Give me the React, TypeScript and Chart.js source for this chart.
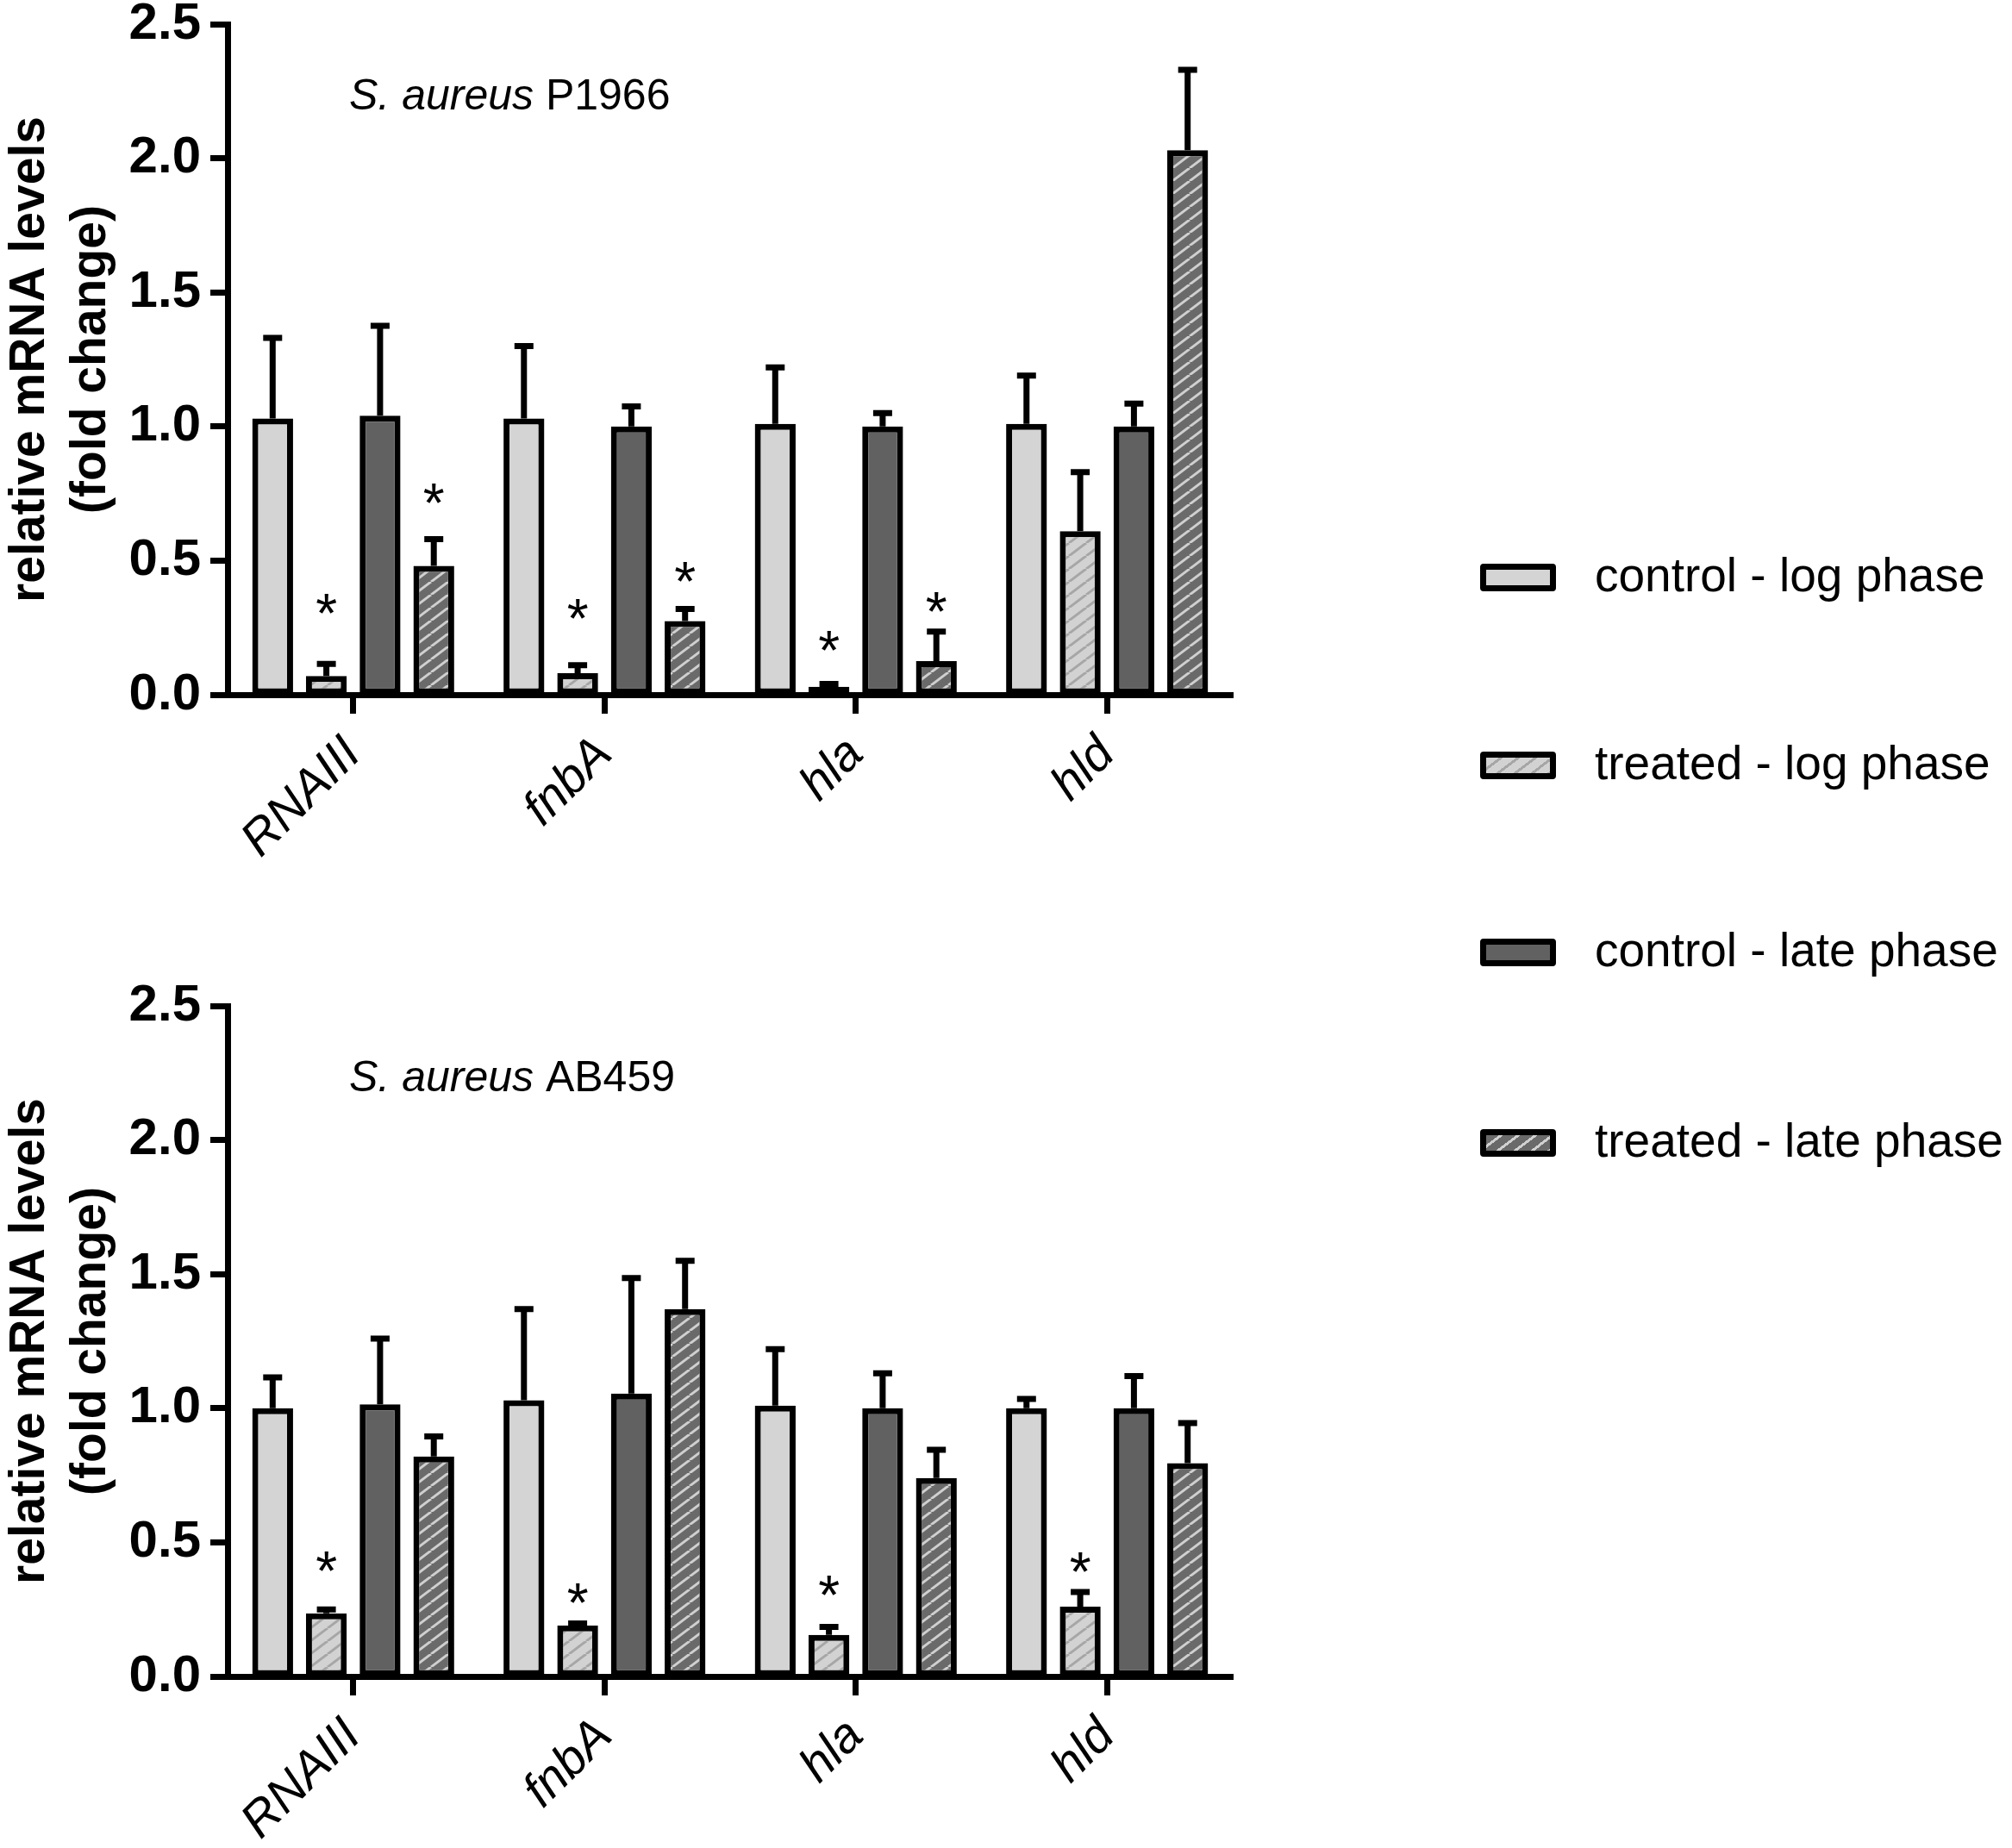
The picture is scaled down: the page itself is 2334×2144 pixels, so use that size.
import { useEffect, useRef } from "react";
import { Chart, registerables } from "chart.js";

Chart.register(...registerables);

const FONT = "'Liberation Sans', Arial, Helvetica, sans-serif";
Chart.defaults.font.family = FONT;
Chart.defaults.color = "#000";

const categories = ["RNAIII", "fnbA", "hla", "hld"];
const seriesNames = ["control - log phase", "treated - log phase", "control - late phase", "treated - late phase"];
const yTicks = [0, 0.5, 1.0, 1.5, 2.0, 2.5];

// S. aureus P1966
const p1966ControlLog = [1.03, 1.03, 1.01, 1.01];
const p1966ControlLogSd = [0.3, 0.27, 0.21, 0.18];
const p1966TreatedLog = [0.07, 0.08, 0.03, 0.61];
const p1966TreatedLogSd = [0.045, 0.03, 0.01, 0.22];
const p1966ControlLate = [1.04, 1.0, 1.0, 1.0];
const p1966ControlLateSd = [0.335, 0.075, 0.05, 0.085];
const p1966TreatedLate = [0.48, 0.275, 0.125, 2.03];
const p1966TreatedLateSd = [0.1, 0.045, 0.11, 0.3];
const p1966StarsTreatedLog = [0.35, 0.33, 0.21, null];
const p1966StarsTreatedLate = [0.76, 0.47, 0.355, null];

// S. aureus AB459
const ab459ControlLog = [1.0, 1.03, 1.01, 1.0];
const ab459ControlLogSd = [0.115, 0.34, 0.21, 0.035];
const ab459TreatedLog = [0.235, 0.19, 0.155, 0.26];
const ab459TreatedLogSd = [0.015, 0.008, 0.03, 0.055];
const ab459ControlLate = [1.015, 1.055, 1.0, 1.0];
const ab459ControlLateSd = [0.245, 0.43, 0.13, 0.12];
const ab459TreatedLate = [0.82, 1.37, 0.74, 0.795];
const ab459TreatedLateSd = [0.075, 0.18, 0.105, 0.15];
const ab459StarsTreatedLog = [0.44, 0.32, 0.35, 0.435];
const ab459StarsTreatedLate = [null, null, null, null];

const LIGHT = "#d4d4d4";
const DARK = "#616161";

function hatch(bg: string, line: string): CanvasPattern | string {
  const w = 20;
  const h = 15;
  const c = document.createElement("canvas");
  c.width = w;
  c.height = h;
  const g = c.getContext("2d");
  if (!g) return bg;
  g.fillStyle = bg;
  g.fillRect(0, 0, w, h);
  g.strokeStyle = line;
  g.lineWidth = 3;
  for (const dx of [-w, 0, w]) {
    g.beginPath();
    g.moveTo(dx, h);
    g.lineTo(dx + w, 0);
    g.stroke();
  }
  return g.createPattern(c, "repeat") || bg;
}

interface PanelProps {
  strain: string;
  values: number[][];
  sds: number[][];
  stars: (number | null)[][];
}

const CANVAS_W = 1450;
const CANVAS_H = 1100;
const AREA_LEFT = 264;
const AREA_TOP = 28;
const AREA_BOTTOM = 806;
const STAR_SIZE = 64;

function Panel({ strain, values, sds, stars }: PanelProps) {
  const chartRef = useRef<HTMLCanvasElement>(null);
  const chartInstance = useRef<Chart | null>(null);

  useEffect(() => {
    if (!chartRef.current) return;
    if (chartInstance.current) chartInstance.current.destroy();
    const ctx = chartRef.current.getContext("2d");
    if (!ctx) return;

    const fills = [LIGHT, hatch("#d2d2d2", "#a6a6a6"), DARK, hatch("#6a6a6a", "#d0d0d0")];

    const extras = {
      id: "extras",
      afterDatasetsDraw(chart: any) {
        const c = chart.ctx;
        const y = chart.scales.y;
        c.save();
        // error bars (upper only)
        c.strokeStyle = "#000";
        c.lineWidth = 7;
        values.forEach((vals, i) => {
          const meta = chart.getDatasetMeta(i);
          meta.data.forEach((el: any, j: number) => {
            const top = y.getPixelForValue(vals[j] + sds[i][j]);
            const base = y.getPixelForValue(vals[j]);
            c.beginPath();
            c.moveTo(el.x, base);
            c.lineTo(el.x, top);
            c.moveTo(el.x - 11, top);
            c.lineTo(el.x + 11, top);
            c.stroke();
          });
        });
        // significance stars
        c.fillStyle = "#000";
        c.font = `${STAR_SIZE}px ${FONT}`;
        c.textAlign = "center";
        c.textBaseline = "alphabetic";
        stars.forEach((row, i) => {
          const meta = chart.getDatasetMeta(i);
          row.forEach((s, j) => {
            if (s === null) return;
            const el: any = meta.data[j];
            c.fillText("*", el.x, y.getPixelForValue(s) + 0.575 * STAR_SIZE);
          });
        });
        // strain annotation
        const ax = chart.chartArea.left + 141;
        const ay = chart.chartArea.top + 99;
        c.textAlign = "left";
        c.font = `italic 50px ${FONT}`;
        const italic = "S. aureus";
        c.fillText(italic, ax, ay);
        const wItalic = c.measureText(italic + " ").width;
        c.font = `50px ${FONT}`;
        c.fillText(strain, ax + wItalic, ay);
        // y title
        const cy = (chart.chartArea.top + chart.chartArea.bottom) / 2;
        c.font = `bold 57px ${FONT}`;
        c.textAlign = "center";
        c.translate(51, cy);
        c.rotate(-Math.PI / 2);
        c.fillText("relative mRNA levels", 0, 0);
        c.fillText("(fold change)", 0, 71);
        c.restore();
      },
    };

    chartInstance.current = new Chart(ctx, {
      type: "bar",
      data: {
        labels: categories,
        datasets: values.map((vals, i) => ({
          label: seriesNames[i],
          data: vals,
          backgroundColor: fills[i] as any,
          borderColor: "#000",
          borderWidth: 7,
          borderSkipped: false,
          barPercentage: 0.76,
          categoryPercentage: 0.855,
        })),
      },
      options: {
        responsive: true,
        maintainAspectRatio: false,
        animation: false,
        layout: {
          autoPadding: false,
          padding: { left: 0, top: AREA_TOP, right: CANVAS_W - 1430, bottom: 0 },
        },
        plugins: {
          legend: { display: false },
          tooltip: { enabled: false },
        },
        scales: {
          x: {
            offset: true,
            grid: {
              display: true,
              drawOnChartArea: false,
              drawTicks: true,
              tickLength: 22,
              tickWidth: 7,
              tickColor: "#000",
              offset: false,
            },
            border: { display: true, width: 7, color: "#000" },
            ticks: {
              color: "#000",
              font: { size: 57, style: "italic" },
              maxRotation: 45,
              minRotation: 45,
              padding: 14,
            },
            afterFit(scale: any) {
              scale.height = CANVAS_H - AREA_BOTTOM;
              scale.paddingLeft = 0;
              scale.paddingRight = 0;
            },
          },
          y: {
            min: 0,
            max: 2.5,
            afterBuildTicks(scale: any) {
              scale.ticks = yTicks.map((v) => ({ value: v }));
            },
            grid: {
              display: true,
              drawOnChartArea: false,
              drawTicks: true,
              tickLength: 20,
              tickWidth: 7,
              tickColor: "#000",
            },
            border: { display: true, width: 7, color: "#000" },
            ticks: {
              color: "#000",
              font: { size: 60, weight: "bold" },
              padding: 11,
              callback: (v: any) => Number(v).toFixed(1),
            },
            afterFit(scale: any) {
              scale.width = AREA_LEFT;
              scale.paddingTop = 0;
              scale.paddingBottom = 0;
            },
          },
        },
      },
      plugins: [extras],
    });

    return () => {
      if (chartInstance.current) {
        chartInstance.current.destroy();
        chartInstance.current = null;
      }
    };
  }, [strain, values, sds, stars]);

  return (
    <div style={{ width: CANVAS_W, height: CANVAS_H, position: "relative" }}>
      <canvas ref={chartRef}></canvas>
    </div>
  );
}

const swatchStyles = [
  { background: LIGHT },
  { background: "repeating-linear-gradient(143deg, #d2d2d2 0px, #d2d2d2 9px, #a6a6a6 9px, #a6a6a6 12px)" },
  { background: DARK },
  { background: "repeating-linear-gradient(143deg, #6a6a6a 0px, #6a6a6a 9px, #d0d0d0 9px, #d0d0d0 12px)" },
];
const legendRows = [670, 888, 1105, 1326];

function Legend() {
  return (
    <>
      {seriesNames.map((name, i) => (
        <div key={name}>
          <div
            style={{
              position: "absolute",
              left: 1717,
              top: legendRows[i] - 16,
              width: 74,
              height: 18,
              border: "7px solid #000",
              borderRadius: 4,
              ...swatchStyles[i],
            }}
          />
          <div
            style={{
              position: "absolute",
              left: 1850,
              top: legendRows[i] - 34,
              font: `55px ${FONT}`,
              lineHeight: "62px",
              color: "#000",
              whiteSpace: "nowrap",
            }}
          >
            {name}
          </div>
        </div>
      ))}
    </>
  );
}

const p1966Values = [p1966ControlLog, p1966TreatedLog, p1966ControlLate, p1966TreatedLate];
const p1966Sds = [p1966ControlLogSd, p1966TreatedLogSd, p1966ControlLateSd, p1966TreatedLateSd];
const p1966Stars = [[null, null, null, null], p1966StarsTreatedLog, [null, null, null, null], p1966StarsTreatedLate];
const ab459Values = [ab459ControlLog, ab459TreatedLog, ab459ControlLate, ab459TreatedLate];
const ab459Sds = [ab459ControlLogSd, ab459TreatedLogSd, ab459ControlLateSd, ab459TreatedLateSd];
const ab459Stars = [[null, null, null, null], ab459StarsTreatedLog, [null, null, null, null], ab459StarsTreatedLate];

export default function App() {
  return (
    <div style={{ position: "absolute", left: 0, top: 0, width: 2334, height: 2144, background: "#fff", overflow: "hidden" }}>
      <div style={{ position: "absolute", left: 0, top: 0 }}>
        <Panel strain="P1966" values={p1966Values} sds={p1966Sds} stars={p1966Stars} />
      </div>
      <div style={{ position: "absolute", left: 0, top: 1139 }}>
        <Panel strain="AB459" values={ab459Values} sds={ab459Sds} stars={ab459Stars} />
      </div>
      <Legend />
    </div>
  );
}
